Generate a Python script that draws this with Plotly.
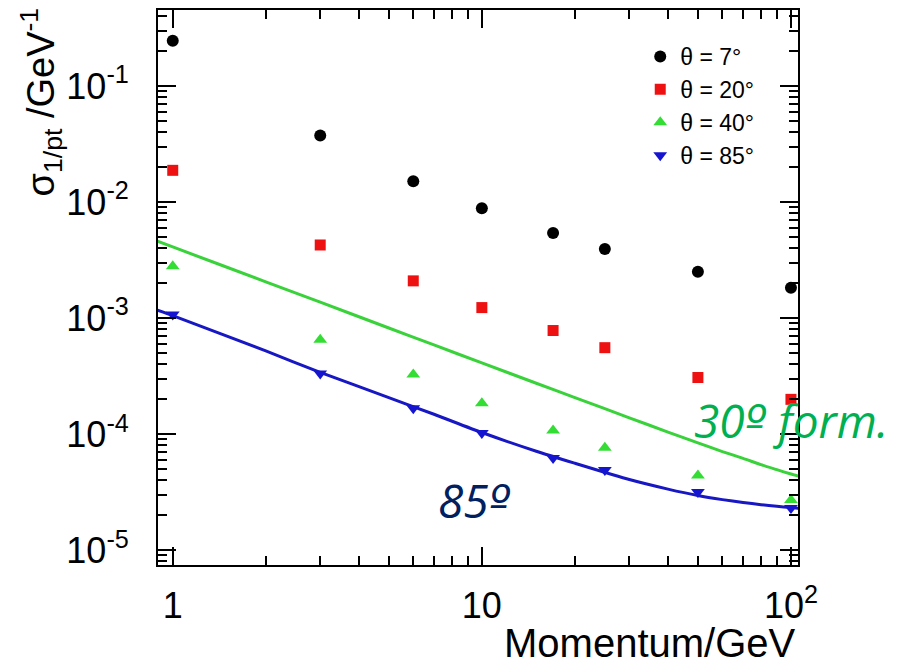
import plotly.graph_objects as go

# ---- data ----
momentum = [1, 3, 6, 10, 17, 25, 50, 100]

sigma_7 = [0.245, 0.0374, 0.0151, 0.00885, 0.0054, 0.00393, 0.00250, 0.00182]
sigma_20 = [0.01875, 0.00426, 0.00209, 0.00123, 7.8e-4, 5.55e-4, 3.07e-4, 1.99e-4]
sigma_40 = [2.8e-3, 6.5e-4, 3.26e-4, 1.84e-4, 1.07e-4, 7.6e-5, 4.4e-5, 2.7e-5]
sigma_85 = [1.07e-3, 3.33e-4, 1.67e-4, 1.02e-4, 6.2e-5, 4.9e-5, 3.16e-5, 2.3e-5]

line_p = [0.89, 1, 2, 3, 5, 7, 10, 15, 20, 30, 40, 50, 60, 70, 80, 90, 100, 106]
line_30_formula = [4.6e-3, 4.1e-3, 2.05e-3, 1.37e-3, 8.2e-4, 5.86e-4, 4.1e-4,
                   2.74e-4, 2.06e-4, 1.38e-4, 1.04e-4, 8.4e-5, 7.06e-5, 6.17e-5,
                   5.44e-5, 4.93e-5, 4.52e-5, 4.33e-5]
line_85 = [1.17e-3, 1.05e-3, 5.2e-4, 3.4e-4, 2.06e-4, 1.48e-4, 1.03e-4,
           7.1e-5, 5.6e-5, 4.05e-5, 3.35e-5, 2.95e-5, 2.72e-5, 2.57e-5,
           2.46e-5, 2.38e-5, 2.32e-5, 2.29e-5]

series_names = ["θ = 7°", "θ = 20°", "θ = 40°", "θ = 85°"]

x_tickvals = [1, 10, 100]
x_ticktext = ["1", "10", "10<sup>2</sup>"]
y_tickvals = [1e-5, 1e-4, 1e-3, 1e-2, 1e-1]
y_ticktext = ["10<sup>-5</sup>", "10<sup>-4</sup>", "10<sup>-3</sup>",
              "10<sup>-2</sup>", "10<sup>-1</sup>"]
minor_steps = [2, 3, 4, 5, 6, 7, 8, 9]
x_minor = [m * d for d in [0.1, 1, 10] for m in minor_steps]
y_minor = [m * d for d in [1e-6, 1e-5, 1e-4, 1e-3, 1e-2, 1e-1] for m in minor_steps]

FONT = "Liberation Sans, Arial, sans-serif"
ORD = "<span style='font-family:DejaVu Sans'>º</span>"

fig = go.Figure()

# curves
fig.add_trace(go.Scatter(x=line_p, y=line_30_formula, mode="lines",
                         line=dict(color="#3ad23a", width=3, shape="spline", smoothing=0.6),
                         showlegend=False, hoverinfo="skip"))
fig.add_trace(go.Scatter(x=line_p, y=line_85, mode="lines",
                         line=dict(color="#1717c4", width=3, shape="spline", smoothing=0.6),
                         showlegend=False, hoverinfo="skip"))

# points
fig.add_trace(go.Scatter(x=momentum, y=sigma_7, mode="markers", name=series_names[0],
                         marker=dict(symbol="circle", size=12, color="black")))
fig.add_trace(go.Scatter(x=momentum, y=sigma_20, mode="markers", name=series_names[1],
                         marker=dict(symbol="square", size=11, color="#ee1111")))
fig.add_trace(go.Scatter(x=momentum, y=sigma_40, mode="markers", name=series_names[2],
                         marker=dict(symbol="triangle-up", size=12, color="#33dd33")))
fig.add_trace(go.Scatter(x=momentum, y=sigma_85, mode="markers", name=series_names[3],
                         marker=dict(symbol="triangle-down", size=12, color="#1515d0")))

axis_common = dict(
    type="log", showgrid=False, zeroline=False,
    showline=True, linecolor="black", linewidth=2, mirror="allticks",
    ticks="inside", ticklen=18, tickwidth=2, tickcolor="black",
    tickfont=dict(family=FONT, size=36, color="black"),
)

fig.update_xaxes(range=[-0.0477, 2.0228], tickvals=x_tickvals, ticktext=x_ticktext,
                 ticklabelstandoff=8,
                 minor=dict(ticks="inside", ticklen=9, tickwidth=1.5, tickcolor="black",
                            showgrid=False, tickvals=x_minor),
                 **axis_common)
fig.update_yaxes(range=[-5.129, -0.345], tickvals=y_tickvals, ticktext=y_ticktext,
                 ticklabelstandoff=20,
                 minor=dict(ticks="inside", ticklen=9, tickwidth=1.5, tickcolor="black",
                            showgrid=False, tickvals=y_minor),
                 **axis_common)

fig.update_layout(
    width=907, height=667,
    margin=dict(l=158, r=109, t=8, b=102),
    paper_bgcolor="white", plot_bgcolor="white",
    font=dict(family=FONT, color="black"),
    showlegend=True,
    legend=dict(x=0.7535, y=0.955, xanchor="left", yanchor="top",
                bgcolor="rgba(0,0,0,0)", borderwidth=0,
                font=dict(family=FONT, size=23, color="black"),
                itemwidth=30),
    annotations=[
        dict(text="σ<sub>1/pt</sub> /GeV<sup>-1</sup>", textangle=-90,
             xref="paper", yref="paper", x=-0.183, y=0.835,
             xanchor="center", yanchor="middle", showarrow=False,
             font=dict(family=FONT, size=38, color="black")),
        dict(text="Momentum/GeV", xref="paper", yref="paper", x=1.0, y=-0.14,
             xanchor="right", yanchor="middle", showarrow=False,
             font=dict(family=FONT, size=40, color="black")),
        dict(text="<i>30" + ORD + " form.</i>", xref="paper", yref="paper", x=0.834, y=0.262,
             xanchor="left", yanchor="middle", showarrow=False,
             font=dict(family="Open Sans, sans-serif", size=46, color="#00b050")),
        dict(text="<i>85" + ORD + "</i>", xref="paper", yref="paper", x=0.434, y=0.117,
             xanchor="left", yanchor="middle", showarrow=False,
             font=dict(family="Open Sans, sans-serif", size=46, color="#002060")),
    ],
)

fig.write_html("out.html")
